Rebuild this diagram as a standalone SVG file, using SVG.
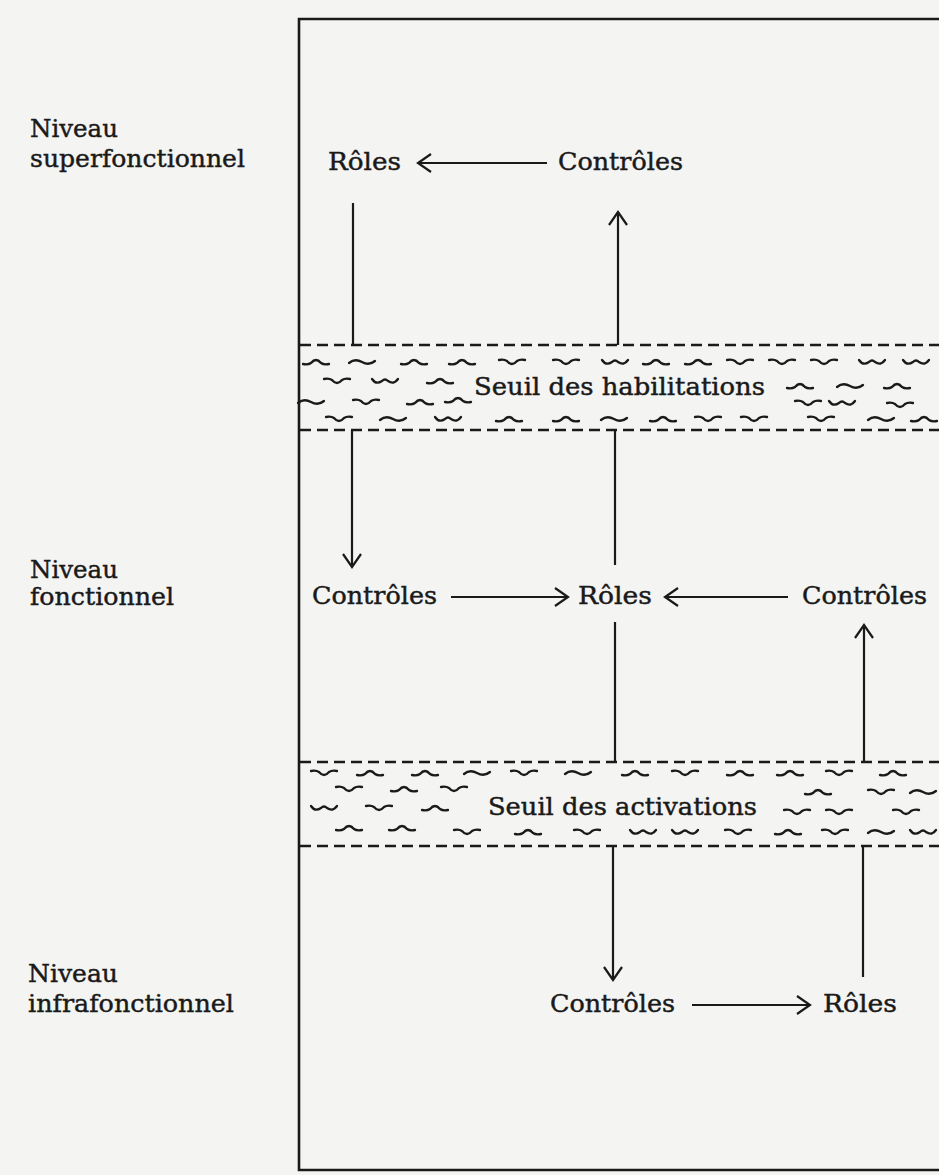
<svg xmlns="http://www.w3.org/2000/svg" xmlns:xlink="http://www.w3.org/1999/xlink" width="939" height="1175" viewBox="0 0 939 1175">
  <style>
    .lbl { font-family: "DejaVu Serif", "Liberation Serif", serif; font-size: 25px; fill: #1a1a1a; stroke: #1a1a1a; stroke-width: 0.45; }
    .ln { stroke: #1a1a1a; stroke-width: 2.2; fill: none; }
    .frame { stroke: #1a1a1a; stroke-width: 2.6; fill: none; }
    .dash { stroke: #1a1a1a; stroke-width: 2.4; stroke-dasharray: 11 6; fill: none; }
    .wv { stroke: #1a1a1a; stroke-width: 2.3; fill: none; stroke-linecap: round; stroke-linejoin: round; }
  </style>
  <defs>
    <marker id="head" viewBox="0 0 15 20" refX="14" refY="10" markerWidth="15" markerHeight="20" markerUnits="userSpaceOnUse" orient="auto" overflow="visible">
      <path d="M1,1 L14,10 L1,19" fill="none" stroke="#1a1a1a" stroke-width="2.2" stroke-linejoin="miter"/>
    </marker>
    <!-- small wave marks filling the threshold bands -->
    <path id="w1" class="wv" d="M-13,2 Q-8,3 -5,1 Q0,-5 5,1 Q8,3 13,2"/>
    <path id="w2" class="wv" d="M-13,-2 Q-8,-3 -5,-1 Q0,5 5,-1 Q8,-3 13,-2"/>
    <path id="w3" class="wv" d="M-13,1 Q-7,-4 0,0 Q7,4 13,-1"/>
    <path id="w4" class="wv" d="M-13,-2 Q-9,4 -3,0 Q0,-3 3,0 Q9,4 13,-2"/>
  </defs>

  <rect width="939" height="1175" fill="#f4f4f3"/>

  <!-- frame -->
  <g id="frame">
    <path class="frame" d="M939,19 H299 V1170 H939"/>
  </g>

  <!-- level labels -->
  <g id="level-super">
    <text class="lbl" x="30" y="137" textLength="88" lengthAdjust="spacingAndGlyphs">Niveau</text>
    <text class="lbl" x="30" y="167" textLength="215" lengthAdjust="spacingAndGlyphs">superfonctionnel</text>
  </g>
  <g id="level-fonc">
    <text class="lbl" x="30" y="578" textLength="88" lengthAdjust="spacingAndGlyphs">Niveau</text>
    <text class="lbl" x="30" y="605" textLength="144" lengthAdjust="spacingAndGlyphs">fonctionnel</text>
  </g>
  <g id="level-infra">
    <text class="lbl" x="28" y="982" textLength="90" lengthAdjust="spacingAndGlyphs">Niveau</text>
    <text class="lbl" x="28" y="1012" textLength="206" lengthAdjust="spacingAndGlyphs">infrafonctionnel</text>
  </g>

  <!-- threshold bands -->
  <g id="seuil-habilitations">
    <line class="dash" x1="300" y1="345" x2="939" y2="345"/>
    <line class="dash" x1="300" y1="430" x2="939" y2="430"/>
    <text class="lbl" x="474" y="395" textLength="291" lengthAdjust="spacingAndGlyphs">Seuil des habilitations</text>
    <g>
      <use href="#w1" x="316" y="362"/><use href="#w3" x="362" y="362"/><use href="#w1" x="414" y="362"/>
      <use href="#w1" x="462" y="362"/><use href="#w2" x="512" y="362"/><use href="#w2" x="566" y="362"/>
      <use href="#w4" x="615" y="362"/><use href="#w1" x="656" y="362"/><use href="#w1" x="698" y="362"/>
      <use href="#w2" x="740" y="362"/><use href="#w2" x="782" y="362"/><use href="#w2" x="824" y="362"/>
      <use href="#w4" x="872" y="362"/><use href="#w4" x="916" y="362"/>
      <use href="#w2" x="337" y="381"/><use href="#w4" x="385" y="381"/><use href="#w1" x="440" y="381"/>
      <use href="#w1" x="800" y="386"/><use href="#w3" x="850" y="386"/><use href="#w1" x="897" y="386"/>
      <use href="#w3" x="311" y="402"/><use href="#w2" x="366" y="402"/><use href="#w1" x="420" y="402"/>
      <use href="#w1" x="458" y="400"/>
      <use href="#w2" x="808" y="403"/><use href="#w4" x="842" y="403"/><use href="#w2" x="900" y="405"/>
      <use href="#w2" x="339" y="419"/><use href="#w3" x="393" y="419"/><use href="#w4" x="448" y="419"/>
      <use href="#w1" x="509" y="419"/><use href="#w1" x="566" y="419"/><use href="#w3" x="614" y="419"/>
      <use href="#w1" x="663" y="419"/><use href="#w2" x="708" y="419"/><use href="#w2" x="754" y="419"/>
      <use href="#w2" x="821" y="419"/><use href="#w3" x="881" y="419"/><use href="#w1" x="924" y="419"/>
    </g>
  </g>

  <g id="seuil-activations">
    <line class="dash" x1="300" y1="762" x2="939" y2="762"/>
    <line class="dash" x1="300" y1="846" x2="939" y2="846"/>
    <text class="lbl" x="488" y="815" textLength="269" lengthAdjust="spacingAndGlyphs">Seuil des activations</text>
    <g>
      <use href="#w2" x="324" y="773"/><use href="#w1" x="370" y="773"/><use href="#w1" x="425" y="773"/>
      <use href="#w3" x="477" y="773"/><use href="#w2" x="524" y="773"/><use href="#w3" x="578" y="773"/>
      <use href="#w1" x="635" y="773"/><use href="#w2" x="685" y="773"/><use href="#w1" x="740" y="773"/>
      <use href="#w1" x="790" y="773"/><use href="#w2" x="839" y="773"/><use href="#w1" x="893" y="773"/>
      <use href="#w2" x="349" y="789"/><use href="#w1" x="404" y="789"/><use href="#w2" x="454" y="789"/>
      <use href="#w1" x="818" y="792"/><use href="#w2" x="881" y="792"/><use href="#w3" x="923" y="792"/>
      <use href="#w4" x="324" y="808"/><use href="#w2" x="379" y="808"/><use href="#w1" x="435" y="808"/>
      <use href="#w2" x="797" y="812"/><use href="#w2" x="839" y="812"/><use href="#w2" x="906" y="812"/>
      <use href="#w1" x="349" y="828"/><use href="#w1" x="402" y="828"/>
      <use href="#w2" x="467" y="832"/><use href="#w1" x="528" y="832"/><use href="#w2" x="587" y="832"/>
      <use href="#w4" x="643" y="832"/><use href="#w4" x="685" y="832"/><use href="#w2" x="738" y="832"/>
      <use href="#w1" x="788" y="832"/><use href="#w2" x="835" y="832"/><use href="#w3" x="881" y="832"/>
      <use href="#w4" x="923" y="832"/>
    </g>
  </g>

  <!-- nodes: superfonctionnel -->
  <g id="roles-super"><text class="lbl" x="328" y="170" textLength="73" lengthAdjust="spacingAndGlyphs">Rôles</text></g>
  <g id="controles-super"><text class="lbl" x="558" y="170" textLength="125" lengthAdjust="spacingAndGlyphs">Contrôles</text></g>

  <!-- nodes: fonctionnel -->
  <g id="controles-fonc-a"><text class="lbl" x="312" y="604" textLength="125" lengthAdjust="spacingAndGlyphs">Contrôles</text></g>
  <g id="roles-fonc"><text class="lbl" x="578" y="604" textLength="74" lengthAdjust="spacingAndGlyphs">Rôles</text></g>
  <g id="controles-fonc-b"><text class="lbl" x="802" y="604" textLength="125" lengthAdjust="spacingAndGlyphs">Contrôles</text></g>

  <!-- nodes: infrafonctionnel -->
  <g id="controles-infra"><text class="lbl" x="550" y="1012" textLength="125" lengthAdjust="spacingAndGlyphs">Contrôles</text></g>
  <g id="roles-infra"><text class="lbl" x="823" y="1012" textLength="74" lengthAdjust="spacingAndGlyphs">Rôles</text></g>

  <!-- connectors -->
  <g id="connectors">
    <line class="ln" x1="547" y1="163" x2="418" y2="163" marker-end="url(#head)"/>
    <line class="ln" x1="353" y1="203" x2="353" y2="345"/>
    <line class="ln" x1="618" y1="345" x2="618" y2="212" marker-end="url(#head)"/>

    <line class="ln" x1="352" y1="430" x2="352" y2="567" marker-end="url(#head)"/>
    <line class="ln" x1="615" y1="430" x2="615" y2="565"/>

    <line class="ln" x1="451" y1="597" x2="568" y2="597" marker-end="url(#head)"/>
    <line class="ln" x1="788" y1="597" x2="665" y2="597" marker-end="url(#head)"/>

    <line class="ln" x1="615" y1="622" x2="615" y2="762"/>
    <line class="ln" x1="864" y1="762" x2="864" y2="625" marker-end="url(#head)"/>

    <line class="ln" x1="613" y1="846" x2="613" y2="980" marker-end="url(#head)"/>
    <line class="ln" x1="863" y1="846" x2="863" y2="977"/>

    <line class="ln" x1="692" y1="1005" x2="810" y2="1005" marker-end="url(#head)"/>
  </g>
</svg>
